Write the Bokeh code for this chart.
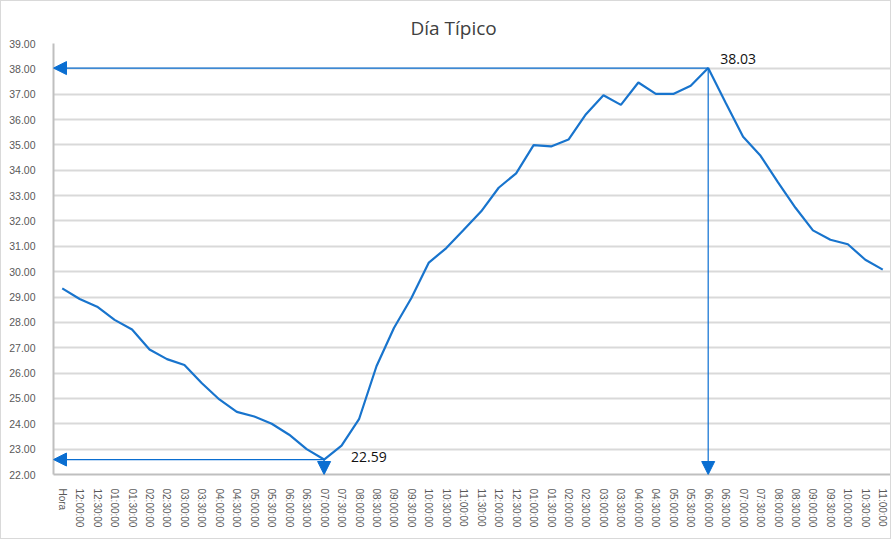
import numpy as np
from bokeh.plotting import figure
from bokeh.models import FixedTicker, Arrow, NormalHead, Label, PrintfTickFormatter, Range1d
from bokeh.embed import file_html
from bokeh.resources import INLINE

title_text = "Día Típico"

hours = ["Hora",
         "12:00:00", "12:30:00", "01:00:00", "01:30:00", "02:00:00", "02:30:00",
         "03:00:00", "03:30:00", "04:00:00", "04:30:00", "05:00:00", "05:30:00",
         "06:00:00", "06:30:00", "07:00:00", "07:30:00", "08:00:00", "08:30:00",
         "09:00:00", "09:30:00", "10:00:00", "10:30:00", "11:00:00", "11:30:00",
         "12:00:00", "12:30:00", "01:00:00", "01:30:00", "02:00:00", "02:30:00",
         "03:00:00", "03:30:00", "04:00:00", "04:30:00", "05:00:00", "05:30:00",
         "06:00:00", "06:30:00", "07:00:00", "07:30:00", "08:00:00", "08:30:00",
         "09:00:00", "09:30:00", "10:00:00", "10:30:00", "11:00:00"]

temps = [29.34, 28.92, 28.62, 28.10, 27.72, 26.93, 26.55, 26.32, 25.60, 24.96,
         24.47, 24.29, 24.00, 23.57, 23.00, 22.59, 23.14, 24.18, 26.27, 27.78,
         28.96, 30.36, 30.93, 31.65, 32.38, 33.31, 33.88, 34.99, 34.94, 35.21,
         36.21, 36.96, 36.58, 37.46, 37.01, 37.01, 37.33, 38.03, 36.66, 35.32,
         34.57, 33.52, 32.52, 31.63, 31.26, 31.08, 30.47, 30.08]

y_min, y_max = 22, 39
y_ticks = list(range(y_min, y_max + 1))

LINE_BLUE = "#1874CD"
ARROW_BLUE = "#0A6ED1"
GRID = "#D9D9D9"
TEXT = "#595959"

x = list(range(len(hours)))
x_lo, x_hi = -0.5, len(hours) - 0.5

p = figure(width=891, height=539, output_backend="svg", toolbar_location=None,
           x_range=Range1d(x_lo, x_hi), y_range=Range1d(y_min, y_max),
           min_border_left=52, min_border_right=1, min_border_top=42, min_border_bottom=66,
           styles={"border": "1px solid #D9D9D9", "box-sizing": "border-box"})
p.outline_line_color = None
p.background_fill_color = "white"
p.border_fill_color = "white"

# title
p.title.text = title_text
p.title.align = "left"
p.title.offset = 357
p.title.text_font = "Open Sans"
p.title.text_font_size = "19px"
p.title.text_font_style = "normal"
p.title.text_color = "#404040"
p.title.standoff = 6

# axes
p.xaxis.ticker = FixedTicker(ticks=x)
p.xaxis.major_label_overrides = {i: h for i, h in enumerate(hours)}
p.xaxis.major_label_orientation = "vertical"
p.xaxis.major_tick_line_color = None
p.xaxis.minor_tick_line_color = None
p.xaxis.axis_line_color = "#BFBFBF"
p.xaxis.axis_line_width = 2
p.xaxis.major_label_standoff = 8
p.xaxis.major_label_text_font = "Liberation Sans"
p.xaxis.major_label_text_font_size = "10px"
p.xaxis.major_label_text_color = TEXT

p.yaxis.ticker = FixedTicker(ticks=y_ticks)
p.yaxis.formatter = PrintfTickFormatter(format="%.2f")
p.yaxis.major_tick_line_color = None
p.yaxis.minor_tick_line_color = None
p.yaxis.axis_line_color = "#BFBFBF"
p.yaxis.axis_line_width = 2
p.yaxis.major_label_standoff = 12
p.yaxis.major_label_text_font = "Liberation Sans"
p.yaxis.major_label_text_font_size = "10.5px"
p.yaxis.major_label_text_color = TEXT

p.xgrid.grid_line_color = None
p.ygrid.ticker = FixedTicker(ticks=y_ticks)
p.ygrid.grid_line_color = GRID
p.ygrid.grid_line_width = 2

# data line
p.line(x, temps, line_color=LINE_BLUE, line_width=2.2)

# min / max annotations
i_min = int(np.argmin(temps))
i_max = int(np.argmax(temps))
for idx in (i_min, i_max):
    v = temps[idx]
    p.add_layout(Arrow(end=NormalHead(size=13, fill_color=ARROW_BLUE, line_color=ARROW_BLUE),
                       x_start=idx, y_start=v, x_end=x_lo, y_end=v,
                       line_color=ARROW_BLUE, line_width=1.2))
    p.add_layout(Arrow(end=NormalHead(size=13, fill_color=ARROW_BLUE, line_color=ARROW_BLUE),
                       x_start=idx, y_start=v, x_end=idx, y_end=y_min,
                       line_color=ARROW_BLUE, line_width=1.2))

p.add_layout(Label(x=i_min, y=temps[i_min], text=f"{temps[i_min]:.2f}", x_offset=27, y_offset=3,
                   text_baseline="middle", text_font="Open Sans", text_font_size="14px",
                   text_color="#111111"))
p.add_layout(Label(x=i_max, y=temps[i_max], text=f"{temps[i_max]:.2f}", x_offset=12, y_offset=9,
                   text_baseline="middle", text_font="Open Sans", text_font_size="14px",
                   text_color="#111111"))

open("out.html", "w").write(file_html(p, INLINE))
